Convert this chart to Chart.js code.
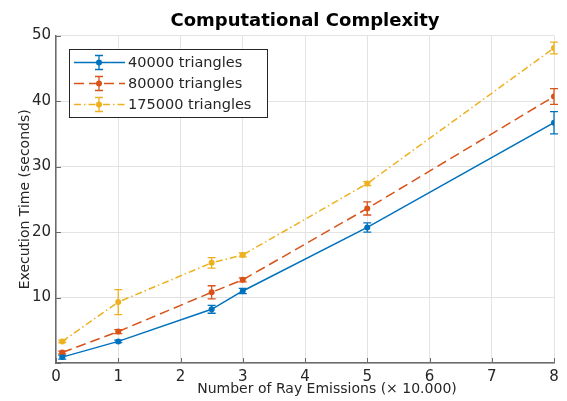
<!DOCTYPE html>
<html>
<head>
<meta charset="utf-8">
<script src="https://cdn.jsdelivr.net/npm/chart.js@4"></script>
<style>
  html, body { margin: 0; padding: 0; background: #fff; }
  #wrap { width: 567px; height: 401px; }
</style>
</head>
<body>
<div id="wrap"><canvas id="chart"></canvas></div>
<script>
const rayEmissions = [0.1, 1, 2.5, 3, 5, 8]

const labels = ['40000 triangles', '80000 triangles', '175000 triangles']

const time40k = [0.9, 3.3, 8.2, 11.0, 20.7, 36.7]
const err40k = [0.3, 0.2, 0.6, 0.4, 0.7, 1.7]

const time80k = [1.6, 4.8, 10.8, 12.7, 23.6, 40.7]
const err80k = [0.2, 0.3, 1.0, 0.3, 1.0, 1.2]

const time175k = [3.3, 9.3, 15.3, 16.5, 27.4, 48.1]
const err175k = [0.2, 1.9, 0.8, 0.3, 0.3, 0.9]

const xTicks = [0, 1, 2, 3, 4, 5, 6, 7, 8]
const yTicks = [0, 10, 20, 30, 40, 50]

const xTitle = 'Number of Ray Emissions (\u00d7 10.000)'

const textColor = '#262626'
const gridColor = '#e3e3e3'
const axisColor = '#6b6b6b'
const fontFamily = "'DejaVu Sans', sans-serif"

function points(values) {
  return values.map((v, i) => ({ x: rayEmissions[i], y: v }))
}

function series(label, values, errors, color, dash) {
  return {
    label,
    data: points(values),
    errors,
    borderColor: color,
    backgroundColor: color,
    borderWidth: 1.5,
    borderDash: dash,
    pointRadius: 3,
    pointBorderWidth: 0,
    pointBackgroundColor: color,
    tension: 0,
  }
}

// MATLAB style error bars with small caps
const errorBars = {
  id: 'errorBars',
  afterDatasetsDraw(chart) {
    const { ctx, scales } = chart
    chart.data.datasets.forEach((ds) => {
      ctx.save()
      ctx.strokeStyle = ds.borderColor
      ctx.lineWidth = 1.3
      ds.data.forEach((p, i) => {
        const e = ds.errors[i]
        const x = scales.x.getPixelForValue(p.x)
        const y1 = scales.y.getPixelForValue(p.y - e)
        const y2 = scales.y.getPixelForValue(p.y + e)
        ctx.beginPath()
        ctx.moveTo(x, y1)
        ctx.lineTo(x, y2)
        ctx.moveTo(x - 4, y1)
        ctx.lineTo(x + 4, y1)
        ctx.moveTo(x - 4, y2)
        ctx.lineTo(x + 4, y2)
        ctx.stroke()
      })
      ctx.restore()
    })
  },
}

// inward tick marks on the left and bottom axes, plus the x label
// (the original sits a bit right of the axis centre)
const axisExtras = {
  id: 'axisExtras',
  afterDraw(chart) {
    const { ctx, chartArea, scales } = chart
    ctx.save()
    ctx.strokeStyle = axisColor
    ctx.lineWidth = 1
    ctx.beginPath()
    xTicks.forEach((t) => {
      const x = Math.round(scales.x.getPixelForValue(t)) + 0.5
      ctx.moveTo(x, chartArea.bottom)
      ctx.lineTo(x, chartArea.bottom - 5)
    })
    yTicks.forEach((t) => {
      const y = Math.round(scales.y.getPixelForValue(t)) + 0.5
      ctx.moveTo(chartArea.left, y)
      ctx.lineTo(chartArea.left + 5, y)
    })
    ctx.stroke()
    ctx.fillStyle = textColor
    ctx.font = '14px ' + fontFamily
    ctx.textAlign = 'center'
    ctx.textBaseline = 'middle'
    ctx.fillText(xTitle, (chartArea.left + chartArea.right) / 2 + 22, 389)
    ctx.restore()
  },
}

const boxLegend = {
  id: 'boxLegend',
  afterDraw(chart) {
    const { ctx } = chart
    const left = 69.5
    const top = 49.5
    const width = 198
    const height = 68
    ctx.save()
    ctx.fillStyle = '#fff'
    ctx.fillRect(left, top, width, height)
    ctx.strokeStyle = '#262626'
    ctx.lineWidth = 1
    ctx.strokeRect(left, top, width, height)
    ctx.font = '14.5px ' + fontFamily
    ctx.textBaseline = 'middle'
    chart.data.datasets.forEach((ds, i) => {
      const y = 62.5 + i * 21
      const mid = 99
      ctx.strokeStyle = ds.borderColor
      ctx.lineWidth = 1.5
      ctx.setLineDash(ds.borderDash || [])
      ctx.beginPath()
      ctx.moveTo(74, y)
      ctx.lineTo(125, y)
      ctx.stroke()
      ctx.setLineDash([])
      ctx.lineWidth = 1.3
      ctx.beginPath()
      ctx.moveTo(mid, y - 7)
      ctx.lineTo(mid, y + 7)
      ctx.moveTo(mid - 4, y - 7)
      ctx.lineTo(mid + 4, y - 7)
      ctx.moveTo(mid - 4, y + 7)
      ctx.lineTo(mid + 4, y + 7)
      ctx.stroke()
      ctx.fillStyle = ds.borderColor
      ctx.beginPath()
      ctx.arc(mid, y, 3, 0, Math.PI * 2)
      ctx.fill()
      ctx.fillStyle = textColor
      ctx.fillText(ds.label, 128, y + 1)
    })
    ctx.restore()
  },
}

new Chart(document.getElementById('chart'), {
  type: 'line',
  data: {
    datasets: [
      series(labels[0], time40k, err40k, '#0072BD', []),
      series(labels[1], time80k, err80k, '#D95319', [10, 5]),
      series(labels[2], time175k, err175k, '#EDB120', [7, 3, 1.5, 3]),
    ],
  },
  options: {
    responsive: true,
    maintainAspectRatio: false,
    animation: false,
    layout: {
      padding: { left: 0, right: 13, top: 0, bottom: 0 },
    },
    plugins: {
      legend: { display: false },
      tooltip: { enabled: false },
      title: {
        display: true,
        fullSize: false,
        text: 'Computational Complexity',
        color: '#000',
        font: { family: fontFamily, size: 18, weight: 'bold' },
        padding: { top: 11, bottom: 3 },
      },
    },
    scales: {
      x: {
        type: 'linear',
        min: 0,
        max: 8,
        afterFit: (scale) => { scale.height = 38 },
        afterBuildTicks: (scale) => { scale.ticks = xTicks.map((v) => ({ value: v })) },
        grid: { color: gridColor, drawTicks: false },
        border: { color: axisColor, width: 1.5 },
        ticks: {
          color: textColor,
          padding: 5,
          font: { family: fontFamily, size: 15 },
        },
      },
      y: {
        min: 0,
        max: 50,
        afterFit: (scale) => { scale.width = 56 },
        afterBuildTicks: (scale) => { scale.ticks = yTicks.map((v) => ({ value: v })) },
        grid: { color: gridColor, drawTicks: false },
        border: { color: axisColor, width: 1.5 },
        ticks: {
          color: textColor,
          padding: 5,
          font: { family: fontFamily, size: 15 },
          callback: (v) => (v === 0 ? '' : v),
        },
        title: {
          display: true,
          text: 'Execution Time (seconds)',
          color: textColor,
          font: { family: fontFamily, size: 14 },
          padding: { top: 17, bottom: 0 },
        },
      },
    },
  },
  plugins: [errorBars, axisExtras, boxLegend],
})
</script>
</body>
</html>
